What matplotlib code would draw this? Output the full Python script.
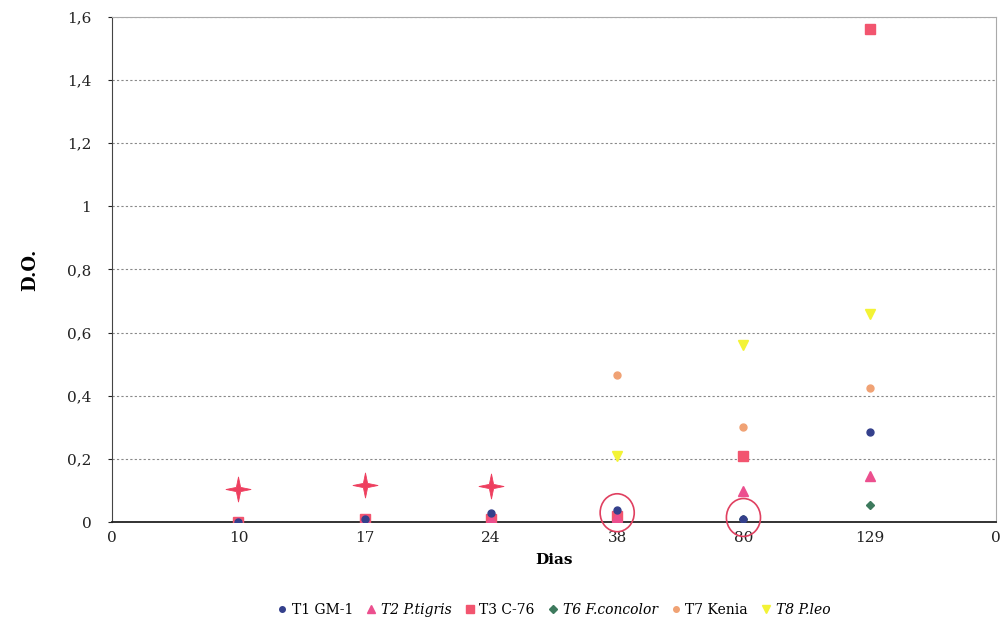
import matplotlib
matplotlib.use("Agg")
import matplotlib.pyplot as plt
import numpy as np
from matplotlib.patches import Ellipse
from matplotlib.path import Path

# Data
x_labels = ["0", "10", "17", "24", "38", "80", "129", "0"]
days_pos = [1, 2, 3, 4, 5, 6]  # category positions for 10,17,24,38,80,129

t1_gm1 = [0.0, 0.01, 0.03, 0.04, 0.01, 0.285]
t2_tigris = [0.0, 0.01, 0.01, 0.015, 0.10, 0.145]
t3_c76 = [0.0, 0.01, 0.01, 0.02, 0.21, 1.56]
t6_concolor = [0.0, 0.005, 0.005, 0.02, 0.01, 0.055]
t7_kenia = [None, None, None, 0.465, 0.30, 0.425]
t8_leo = [None, None, None, 0.21, 0.56, 0.66]
ctrl_pos = [1, 2, 3]
ctrl_vals = [0.105, 0.118, 0.115]
circled_pos = [4, 5]
circled_vals = [0.03, 0.015]

series = [
    ("T1 GM-1", t1_gm1, "o", "#34408c", 5, "normal"),
    ("T2 P.tigris", t2_tigris, "^", "#ec4f8e", 7, "italic"),
    ("T3 C-76", t3_c76, "s", "#f2556f", 7, "normal"),
    ("T6 F.concolor", t6_concolor, "D", "#3d7a5d", 4.5, "italic"),
    ("T7 Kenia", t7_kenia, "o", "#f0a274", 5, "normal"),
    ("T8 P.leo", t8_leo, "v", "#f3f335", 7, "italic"),
]

# four-point star marker
ang = np.arange(8) * np.pi / 4 + np.pi / 2
rad = np.where(np.arange(8) % 2 == 0, 1.0, 0.24)
verts = np.column_stack([rad * np.cos(ang), rad * np.sin(ang)])
verts = np.vstack([verts, verts[:1]])
star = Path(verts, [Path.MOVETO] + [Path.LINETO] * 7 + [Path.CLOSEPOLY])

plt.rcParams["font.family"] = ["DejaVu Serif"]

fig = plt.figure(figsize=(10.01, 6.18), dpi=100)
ax = fig.add_axes([0.112, 0.155, 0.883, 0.818])

for label, vals, mk, col, ms, st in series[::-1]:
    xs = [p for p, v in zip(days_pos, vals) if v is not None]
    ys = [v for v in vals if v is not None]
    ax.plot(xs, ys, linestyle="none", marker=mk, color=col, markersize=ms,
            label=label, zorder=3)

ax.plot(ctrl_pos, ctrl_vals, linestyle="none", marker=star,
        color="#ee3f5f", markersize=18, markeredgewidth=0.6, zorder=3,
        label="_nolegend_")

for p, v in zip(circled_pos, circled_vals):
    ax.add_patch(Ellipse((p, v), 0.27, 0.12, fill=False, clip_on=False,
                         edgecolor="#e04060", linewidth=1.2, zorder=4))

ax.set_xlim(0, 7)
ax.set_ylim(0, 1.6)
ax.set_xticks(range(8))
ax.set_xticklabels(x_labels)
yt = [0, 0.2, 0.4, 0.6, 0.8, 1.0, 1.2, 1.4, 1.6]
ax.set_yticks(yt)
ax.set_yticklabels(["0", "0,2", "0,4", "0,6", "0,8", "1", "1,2", "1,4", "1,6"])
ax.tick_params(axis="both", labelsize=11, length=3, colors="#222222")
ax.tick_params(axis="y", pad=12)
ax.tick_params(axis="x", length=0, pad=6)
ax.yaxis.grid(True, linestyle=(0, (2, 2)), color="#888888", linewidth=0.8)
ax.set_axisbelow(True)

for s in ["top", "right"]:
    ax.spines[s].set_color("#aaaaaa")
    ax.spines[s].set_linewidth(0.8)
ax.spines["left"].set_color("#444444")
ax.spines["bottom"].set_color("#222222")
ax.spines["bottom"].set_linewidth(1.3)

ax.set_ylabel("D.O.", fontsize=13, fontweight="bold", labelpad=20)
ax.set_xlabel("Dias", fontsize=11, fontweight="bold", labelpad=6)

handles, labels = ax.get_legend_handles_labels()
order = [labels.index(s[0]) for s in series]
leg = ax.legend([handles[i] for i in order], [labels[i] for i in order],
                loc="upper center", bbox_to_anchor=(0.5, -0.135), ncol=6,
                frameon=False, fontsize=10, handlelength=0.6,
                handletextpad=0.4, columnspacing=1.0, markerscale=0.8)
for txt, s in zip(leg.get_texts(), series):
    txt.set_style(s[5])

fig.savefig("out.png", dpi=100, facecolor="white")
